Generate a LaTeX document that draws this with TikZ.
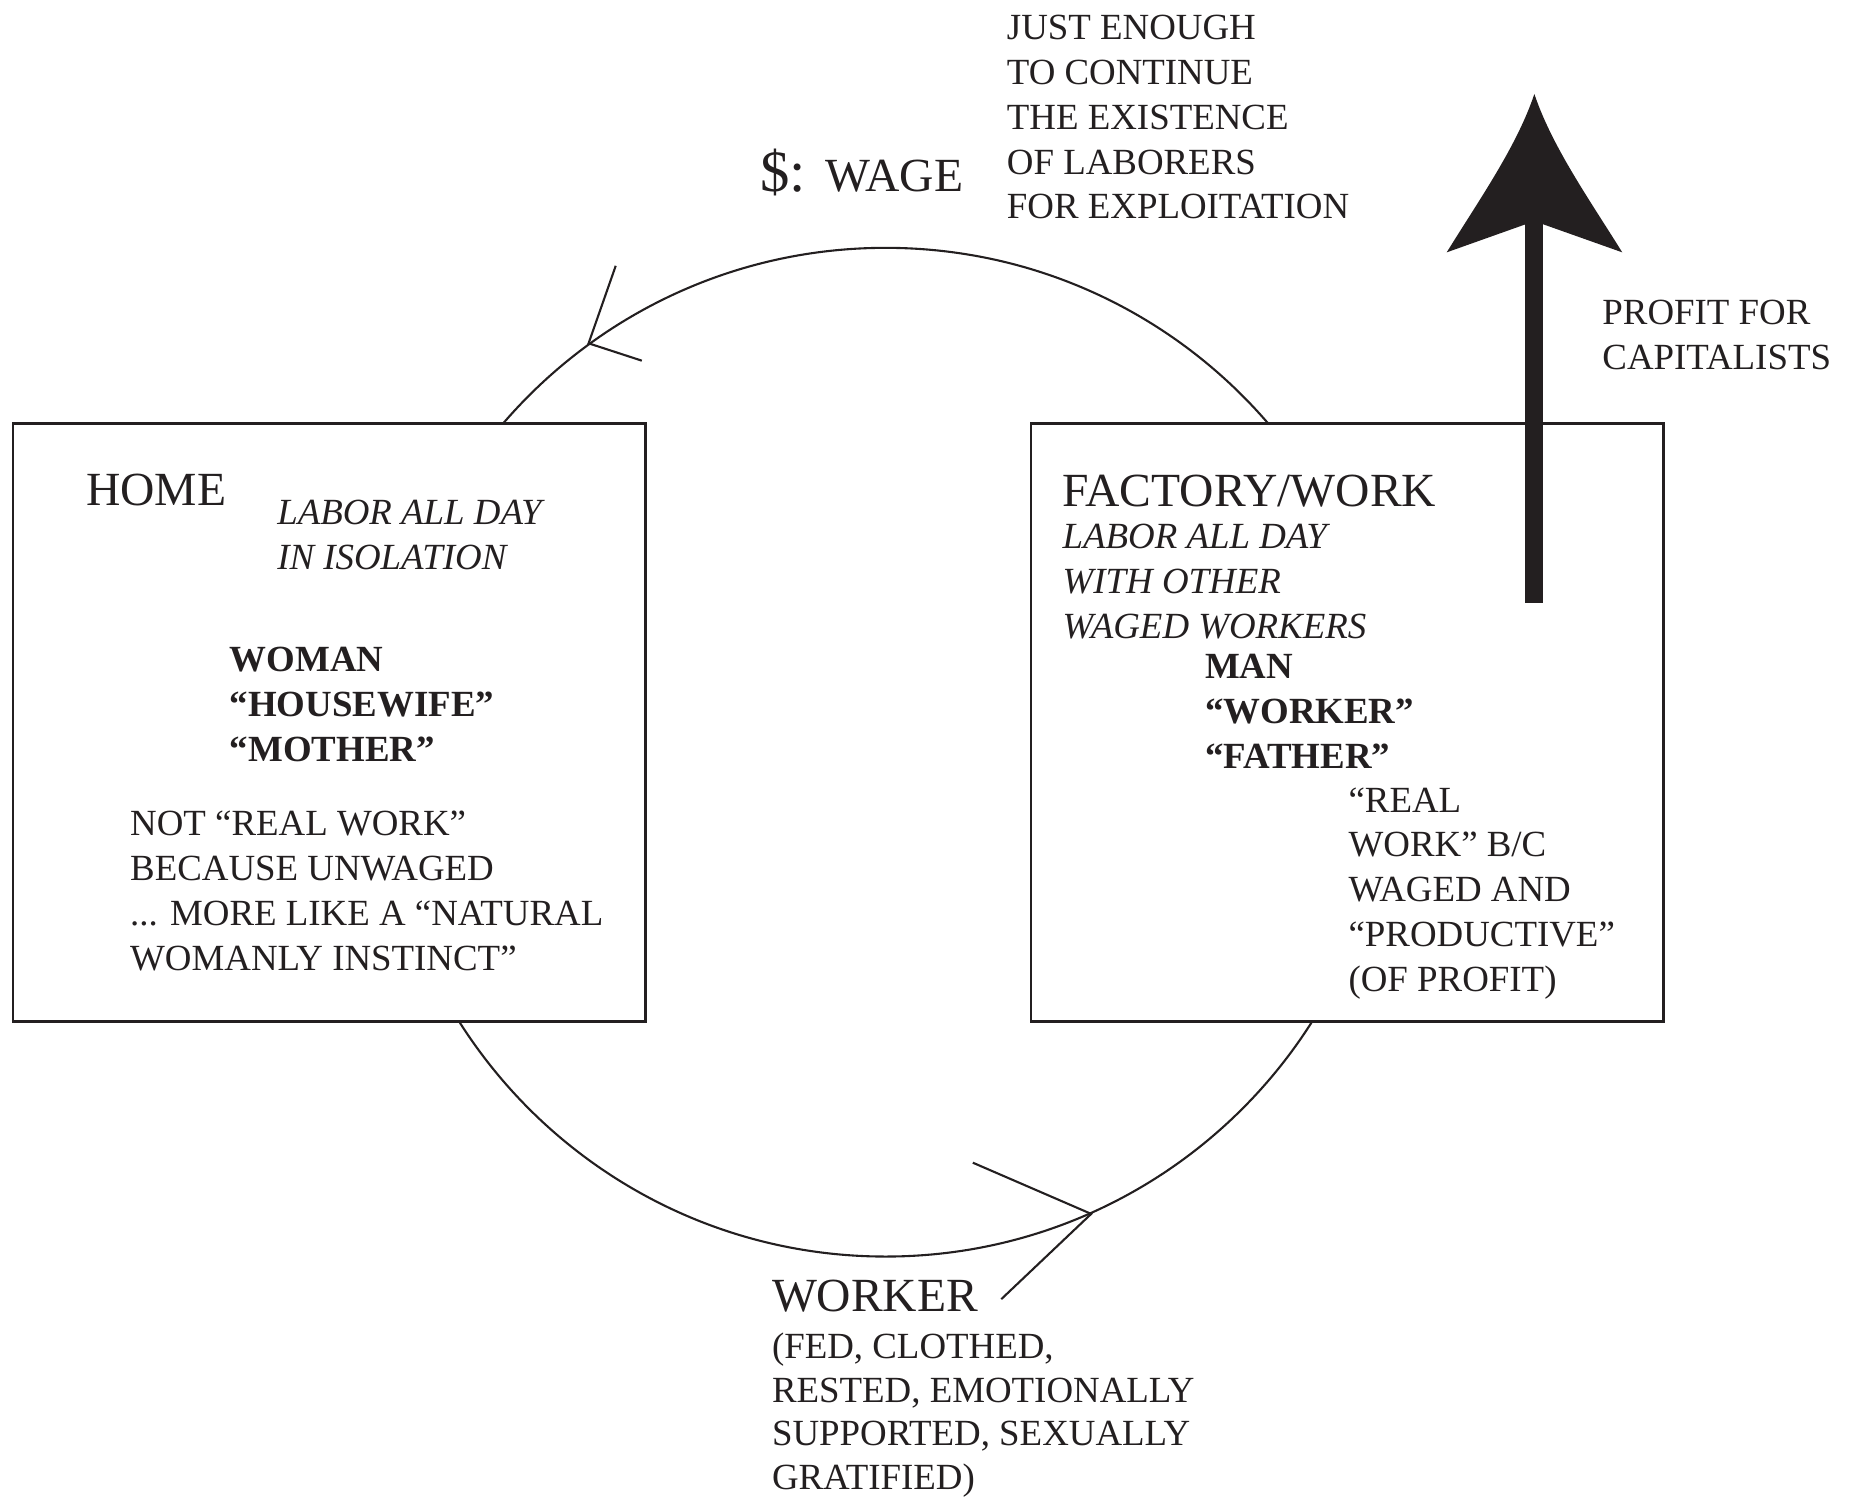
\documentclass[tikz,border=0pt]{standalone}
\usepackage{fontspec}
\setmainfont{Liberation Serif}
\usetikzlibrary{positioning}

\definecolor{ink}{HTML}{231F20}
\newcommand{\bodysize}{\fontsize{8.8}{10.7}\selectfont}
\newcommand{\titlesize}{\fontsize{11.35}{13.5}\selectfont}

\begin{document}
\begin{tikzpicture}[x=0.0995mm,y=-0.0995mm,color=ink,
    box/.style={draw,fill=white,line width=.6pt,minimum width=53.03mm,
                minimum height=50.15mm,inner sep=0pt},
    txt/.style={anchor=north west,inner sep=0pt,align=left,font=\bodysize},
    title/.style={anchor=north west,inner sep=0pt,font=\titlesize}]
  \useasboundingbox (0,0) rectangle (1567.8,1261.8);

  % the wage / worker cycle
  \node[circle,draw,line width=.5pt,minimum size=84.6mm,inner sep=0pt] (loop) at (746.5,634) {};

  \coordinate (wagetip)   at (loop.126.4);
  \coordinate (wageup)    at (519,224);
  \coordinate (wagein)    at (541,304);
  \coordinate (workertip) at (loop.-66.9);
  \coordinate (workerup)  at (820,980);
  \coordinate (workerout) at (844,1095);
  \draw[line width=.5pt] (wageup) -- (wagetip) -- (wagein);
  \draw[line width=.5pt] (workerup) -- (workertip) -- (workerout);

  % the two places
  \node[box] (home)    at (277.5,609) {};
  \node[box] (factory) at (1135.5,609) {};

  \node[title] (hometitle)  at (72,399)  {HOME};
  \node[txt,font=\bodysize\itshape] (homelabor) at (233,421) {LABOR ALL DAY\\IN ISOLATION};
  \node[txt,font=\bodysize\bfseries] (homerole) at (193,545) {WOMAN\\``HOUSEWIFE''\\``MOTHER''};
  \node[txt] (homenote) at (109,683) {NOT ``REAL WORK''\\BECAUSE UNWAGED\\... MORE LIKE A ``NATURAL\\WOMANLY INSTINCT''};

  \node[title] (factorytitle) at (895,400) {FACTORY/WORK};
  \node[txt,font=\bodysize\itshape] (factorylabor) at (895,441) {LABOR ALL DAY\\WITH OTHER\\WAGED WORKERS};
  \node[txt,font=\bodysize\bfseries] (factoryrole) at (1015,551) {MAN\\``WORKER''\\``FATHER''};
  \node[txt] (factorynote) at (1136,663) {``REAL\\WORK'' B/C\\WAGED AND\\``PRODUCTIVE''\\(OF PROFIT)};

  % the wage
  \node[anchor=base west,inner sep=0pt,font=\titlesize] (wage) at (640,161)
        {{\fontsize{14}{16}\selectfont\$:\hspace{4.8pt}}WAGE};
  \node[txt] (enough) at (848,12) {JUST ENOUGH\\TO CONTINUE\\THE EXISTENCE\\OF LABORERS\\FOR EXPLOITATION};

  % the worker
  \node[title] (workertitle) at (650,1078) {WORKER};
  \node[txt,font=\fontsize{8.8}{10.4}\selectfont] (workernote) at (650,1123)
        {(FED, CLOTHED,\\RESTED, EMOTIONALLY\\SUPPORTED, SEXUALLY\\GRATIFIED)};

  % profit
  \coordinate (profitbase) at (1293.3,508);
  \coordinate (profitneck) at (1293.3,185);
  \coordinate (profittip)  at (1293.3,79.2);
  \draw[line width=1.51mm] (profitbase) -- (profitneck);
  \fill (profittip) .. controls (1278.5,123.3) and (1247.5,167.3) .. (1219.4,212.7)
        -- (1285.7,189.1) -- (1300.9,189.1) -- (1367.4,212.7)
        .. controls (1339.1,167.3) and (1308.1,123.3) .. (profittip) -- cycle;
  \node[txt] (profit) at (1350,252) {PROFIT FOR\\CAPITALISTS};
\end{tikzpicture}
\end{document}
